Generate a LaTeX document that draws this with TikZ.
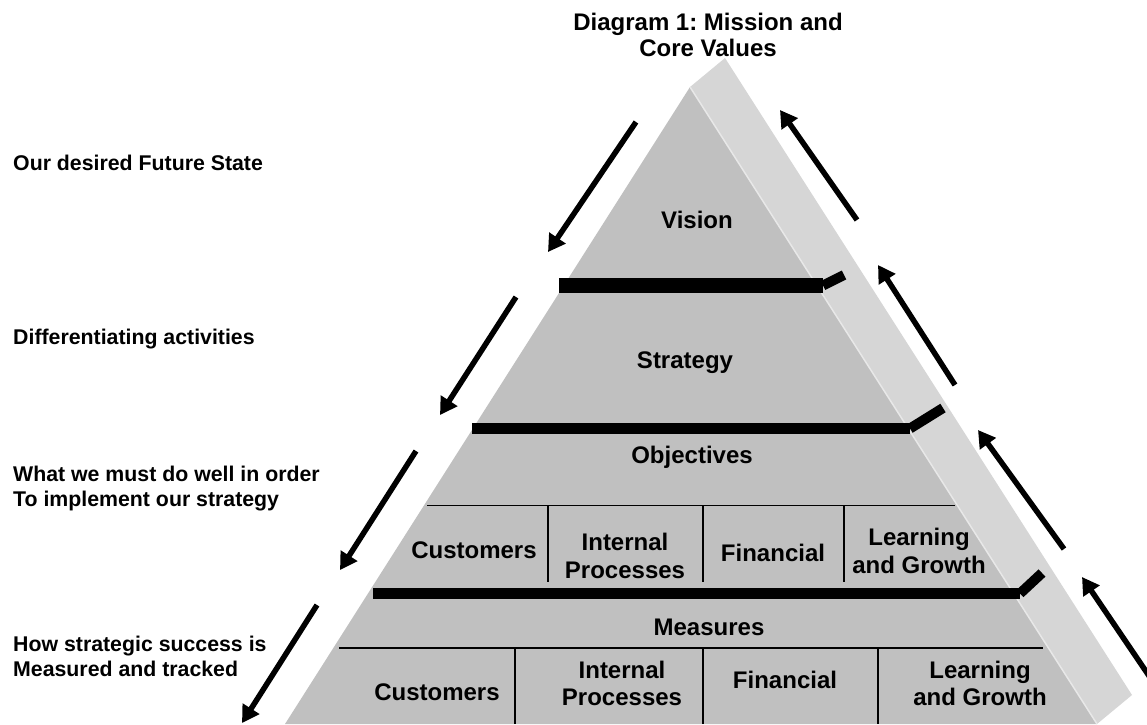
\documentclass[tikz,border=0pt]{standalone}
\usepackage{fontspec}
\setmainfont{Liberation Sans}
\usetikzlibrary{arrows.meta,calc,positioning}
\frenchspacing

\definecolor{pyrfront}{RGB}{192,192,192}
\definecolor{pyrside}{RGB}{214,214,214}
\definecolor{pyredge}{RGB}{232,232,232}

\tikzstyle{heading} = [align=center,inner sep=0pt,font=\bfseries\fontsize{24}{26}\selectfont]
\tikzstyle{stage} = [align=center,inner sep=0pt,font=\bfseries\fontsize{24}{27.6}\selectfont]
\tikzstyle{sidenote} = [anchor=west,align=left,inner sep=0pt,font=\bfseries\fontsize{21.3}{25}\selectfont]
\tikzstyle{sepbar} = [draw=black,line width=11pt]
\tikzstyle{divider} = [draw=black,line width=1.6pt]
\tikzstyle{flow} = [->,line width=5.5pt]

\begin{document}
\begin{tikzpicture}[x=1pt,y=-1pt,>={Triangle[length=17pt,width=19pt]}]
\useasboundingbox (0,0) rectangle (1147,724);

\coordinate (apex) at (690,87);
\coordinate (bl) at (285,724);
\coordinate (br) at (1097,724);
\coordinate (side) at (35,-29);

% side band and front face
\fill[pyrside] (apex)--($(apex)+(side)$)--($(br)+(side)$)--(br)--cycle;
\fill[pyrfront] (apex)--(br)--(bl)--cycle;
\draw[pyredge,line width=1.5pt] (apex)--(br);

% separating bars with their bent ends
\foreach \i/\xa/\xb/\y/\w/\tx/\ty in {1/559/823/285.5/15/844/275,2/472/910/428.5/11/943/408,3/373/1020/593.5/11/1042/573}
{
	\draw[sepbar,line width=\w pt] (\xa,\y)--(\xb,\y);
	\draw[sepbar,line width=10pt] (\xb,\y)--(\tx,\ty);
}

% table lines
\draw[divider] (427,505.5)--(955,505.5);
\draw[divider] (339,648)--(1043,648);
\foreach \x in {548,703,844}
{
	\draw[divider] (\x,505.5)--(\x,582);
}
\foreach \x in {515,703,878}
{
	\draw[divider] (\x,648)--(\x,724);
}

\node (title) [heading] at (708,35) {Diagram 1: Mission and\\Core Values};
\node (vision) [stage] at (697,220) {Vision};
\node (strategy) [stage] at (685,363) {Strategy};
\node (objectives) [stage] at (692,457) {Objectives};
\node (ocust) [stage] at (474,550) {Customers};
\node (oproc) [stage] at (625,556) {Internal\\Processes};
\node (ofin) [stage] at (773,553) {Financial};
\node (ogrow) [stage] at (919,551) {Learning\\and Growth};
\node (measures) [stage] at (709,627) {Measures};
\node (mcust) [stage] at (437,692) {Customers};
\node (mproc) [stage] at (622,683.5) {Internal\\Processes};
\node (mfin) [stage] at (785,680) {Financial};
\node (mgrow) [stage] at (980,683.5) {Learning\\and Growth};

\node (future) [sidenote] at (13,163) {Our desired Future State};
\node (diff) [sidenote] at (13,339.5) {Differentiating activities};
\node (must) [sidenote] at (13,489) {What we must do well in order\\To implement our strategy};
\node (track) [sidenote] at (13,656.5) {How strategic success is\\Measured and tracked};

% arrows down the left side, up the right side
\foreach \i/\xa/\ya/\xb/\yb in {1/636/122/548/252,2/516/297/440/415,3/416/451/340/570,4/317/605/242/723}
{
	\coordinate (dn\i a) at (\xa,\ya);
	\coordinate (dn\i b) at (\xb,\yb);
	\draw[flow] (dn\i a)--(dn\i b);
}
\foreach \i/\xa/\ya/\xb/\yb in {1/857/220/780/110,2/955/385/878/265,3/1064/549/978/430,4/1162/695/1082/577}
{
	\coordinate (up\i a) at (\xa,\ya);
	\coordinate (up\i b) at (\xb,\yb);
	\draw[flow] (up\i a)--(up\i b);
}

\end{tikzpicture}
\end{document}
